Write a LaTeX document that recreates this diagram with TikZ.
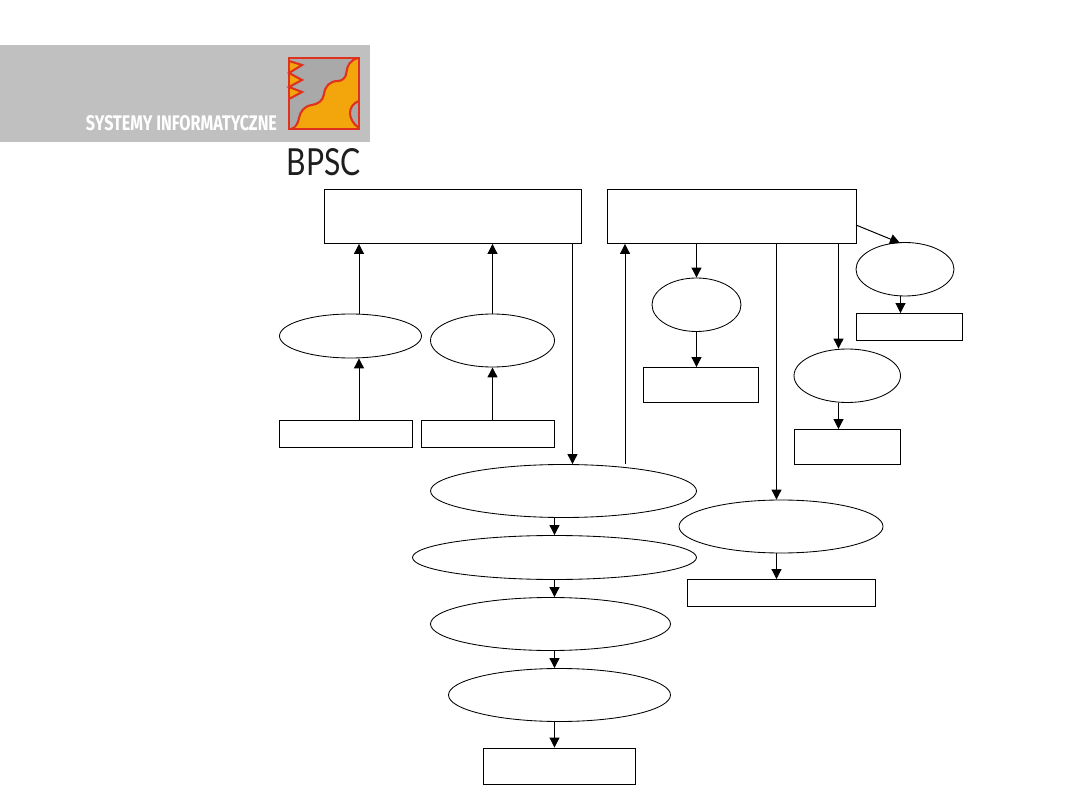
\documentclass[tikz,border=0pt]{standalone}
\usepackage{fontspec}
\usepackage{graphicx}
\usetikzlibrary{shapes.geometric,arrows.meta}
\newfontfamily\logofont{Fira Sans}
\newfontfamily\bpscfont{Lato}
\definecolor{band}{HTML}{C0C0C0}
\definecolor{logogrey}{HTML}{A9A9A9}
\definecolor{logored}{HTML}{E0301E}
\definecolor{logoorange}{HTML}{F2A60C}
\definecolor{bpscink}{HTML}{1E1E1E}
\tikzset{
  x=1pt,y=-1pt,
  boxn/.style={draw=black,line width=0.9pt,inner sep=0pt,fill=white},
  ell/.style={draw=black,line width=0.85pt,ellipse,inner sep=0pt,fill=white},
  arr/.style={draw=black,line width=1pt,-{Triangle[length=10pt,width=10pt]}},
  logoline/.style={draw=logored,line width=2.1pt}
}
\newcommand{\rbox}[5]{\node[boxn,minimum width=#4-#2,minimum height=#5-#3] (#1) at ({(#2+#4)/2},{(#3+#5)/2}) {};}
\newcommand{\rell}[5]{\node[ell,minimum width=#4-#2,minimum height=#5-#3] (#1) at ({(#2+#4)/2},{(#3+#5)/2}) {};}
\begin{document}
\begin{tikzpicture}
\useasboundingbox (0,0) rectangle (1080,810);
% logo band
\fill[band] (0,45) rectangle (370,142);
\fill[logogrey] (289,58) rectangle (359,129);
\fill[logoorange] (358,58) .. controls (350,60) and (347,66) .. (346.5,72)
  .. controls (346,78) and (342,81) .. (338,81)
  .. controls (330,81) and (325,86) .. (324,94)
  .. controls (323,101) and (318,104) .. (312,105)
  .. controls (304,106) and (300,112) .. (299,118)
  .. controls (298,124) and (295,128) .. (291,129)
  -- (359,129) -- (359,128) .. controls (353,124) and (350,118) .. (350,113)
  .. controls (350,108) and (353,103) .. (359,101) -- (359,58) -- cycle;
\draw[logoline] (358,58) .. controls (350,60) and (347,66) .. (346.5,72)
  .. controls (346,78) and (342,81) .. (338,81)
  .. controls (330,81) and (325,86) .. (324,94)
  .. controls (323,101) and (318,104) .. (312,105)
  .. controls (304,106) and (300,112) .. (299,118)
  .. controls (298,124) and (295,128) .. (291,129);
\draw[logoline] (359,128) .. controls (353,124) and (350,118) .. (350,113)
  .. controls (350,108) and (353,103) .. (359,101);
\fill[logoorange] (289,61) -- (302,65) -- (289,73) -- (302,80) -- (289,87) -- (302,92) -- (289,99) -- cycle;
\draw[logoline,line join=miter] (289,61) -- (302,65) -- (289,73) -- (302,80) -- (289,87) -- (302,92) -- (289,99);
\draw[draw=logored,line width=2.6pt] (289,58) rectangle (359,129);
\node[inner sep=0pt,text=white] (sys) at (181.5,123.5) {\resizebox{191pt}{15pt}{\logofont\bfseries SYSTEMY INFORMATYCZNE}};
\node[inner sep=0pt,text=bpscink] (bpsc) at (324,162) {\resizebox{74pt}{27pt}{\bpscfont BPSC}};
% boxes
\rbox{r1}{324}{189.5}{581.5}{243.5}
\rbox{r2}{607.5}{189.5}{856}{243.5}
\rbox{r3}{279}{420.5}{412}{447.5}
\rbox{r4}{421}{420.5}{554}{447.5}
\rbox{r5}{483.5}{748}{635}{784}
\rbox{r6}{643}{367.5}{758.5}{402.5}
\rbox{r7}{794.5}{429.5}{900.5}{464.5}
\rbox{r8}{856.5}{313.5}{962.5}{340.5}
\rbox{r9}{687.5}{579.5}{875}{606.5}
% ellipses
\rell{e1}{279.5}{314}{421.5}{358}
\rell{e2}{430.5}{314}{554.5}{367}
\rell{e3}{430.5}{464.5}{696.5}{517.5}
\rell{e4}{412.5}{535.5}{696.5}{579.5}
\rell{e5}{430.5}{597.5}{670.5}{650.5}
\rell{e6}{448.5}{668.5}{670.5}{721.5}
\rell{e7}{652}{278}{741}{331.5}
\rell{e8}{794}{349}{900.5}{402.5}
\rell{e9}{856}{242.5}{954}{296}
\rell{e10}{679}{500}{883}{553}
% connector columns
\coordinate (c359) at (359,0);
\coordinate (c492) at (492.5,0);
\coordinate (c572) at (572.5,0);
\coordinate (c625) at (625,0);
\coordinate (c554) at (554.5,0);
\coordinate (c696) at (696.5,0);
\coordinate (c776) at (776.5,0);
\coordinate (c838) at (838.5,0);
\coordinate (c900) at (900.5,0);
\coordinate (r2side) at (856,225);
\coordinate (e9top) at (900,243);
\draw[arr] (r3.north -| c359) -- (e1.south -| c359);
\draw[arr] (e1.north -| c359) -- (r1.south -| c359);
\draw[arr] (r4.north -| c492) -- (e2.south -| c492);
\draw[arr] (e2.north -| c492) -- (r1.south -| c492);
\draw[arr] (r1.south -| c572) -- (e3.north -| c572);
\draw[arr] (e3.north -| c625) -- (r2.south -| c625);
\draw[arr] (e3.south -| c554) -- (e4.north -| c554);
\draw[arr] (e4.south -| c554) -- (e5.north -| c554);
\draw[arr] (e5.south -| c554) -- (e6.north -| c554);
\draw[arr] (e6.south -| c554) -- (r5.north -| c554);
\draw[arr] (r2.south -| c696) -- (e7.north -| c696);
\draw[arr] (e7.south -| c696) -- (r6.north -| c696);
\draw[arr] (r2.south -| c776) -- (e10.north -| c776);
\draw[arr] (e10.south -| c776) -- (r9.north -| c776);
\draw[arr] (r2.south -| c838) -- (e8.north -| c838);
\draw[arr] (e8.south -| c838) -- (r7.north -| c838);
\draw[arr] (r2side) -- (e9top);
\draw[arr] (e9.south -| c900) -- (r8.north -| c900);
\end{tikzpicture}
\end{document}
